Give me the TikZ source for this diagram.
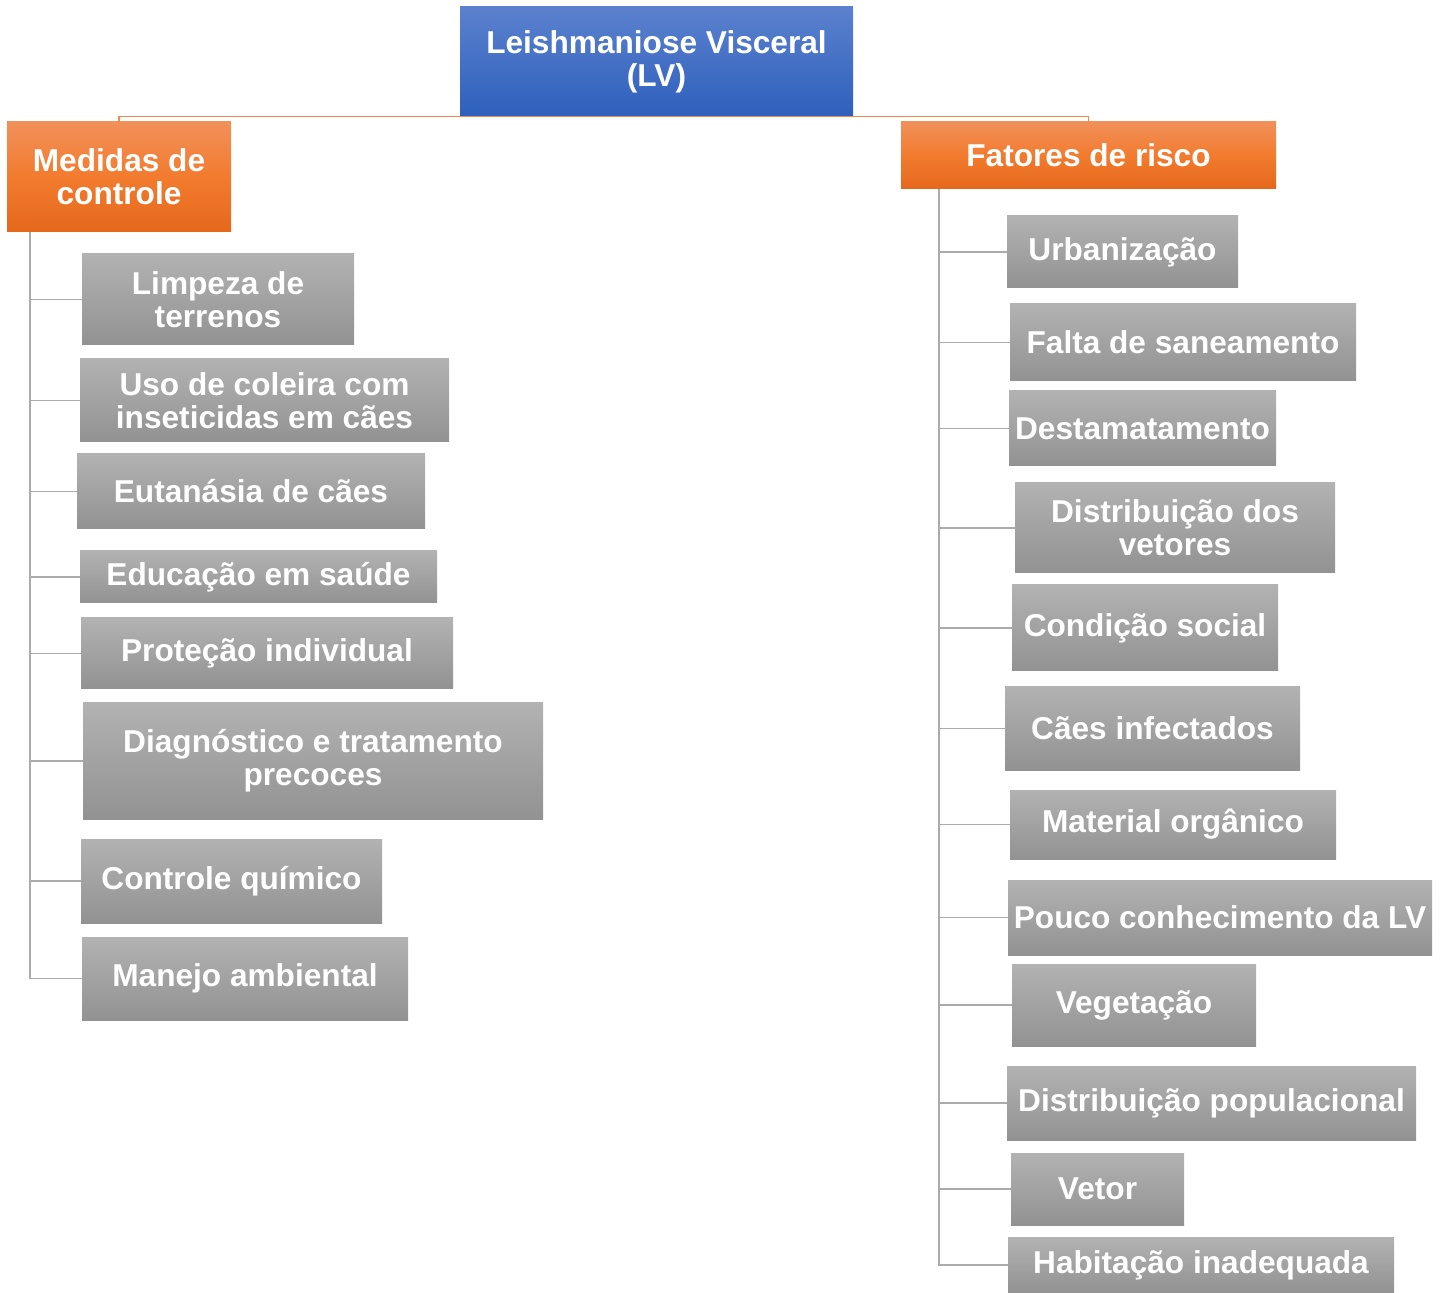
\documentclass[tikz,border=0pt]{standalone}
\usepackage{fontspec}
\setmainfont{Liberation Sans}
\usetikzlibrary{positioning, calc}

\definecolor{lvtop}{HTML}{5B81CE}
\definecolor{lvbot}{HTML}{2E60BC}
\definecolor{ortop}{HTML}{F1905A}
\definecolor{ormid}{HTML}{F27B2E}
\definecolor{orbot}{HTML}{E5681C}
\definecolor{grtop}{HTML}{B2B2B2}
\definecolor{grbot}{HTML}{929292}
\definecolor{grline}{HTML}{ABABAB}
\definecolor{orline}{HTML}{EE8A4A}

\begin{document}
\begin{tikzpicture}[
		x=0.02cm, y=-0.02cm,
		% Estilos dos blocos
		base/.style = {rectangle, inner sep=0pt, align=center, text=white,
			font=\fontsize{18pt}{18.7pt}\selectfont\bfseries},
		sz/.style 2 args = {minimum width=#1*0.02cm, minimum height=#2*0.02cm},
		raiz/.style = {base, top color=lvtop, bottom color=lvbot},
		grupo/.style = {base, top color=ortop, bottom color=orbot, middle color=ormid},
		item/.style = {base, top color=grtop, bottom color=grbot},
		link/.style = {draw=grline, line width=0.9pt},
		olink/.style = {draw=orline, line width=0.9pt}
		]
		\useasboundingbox (0,0) rectangle (1447,1293);
		
		% --- RAIZ ---
		\node [raiz, sz={393}{109}] (lv) at (656.5,61.5) {Leishmaniose Visceral\\(LV)};
		
		% --- GRUPOS ---
		\node [grupo, sz={224}{110}] (medidas) at (119,177) {Medidas de\\controle};
		\node [grupo, sz={375}{67}] (fatores) at (1088.5,155.5) {Fatores de risco};
		
		% --- MEDIDAS DE CONTROLE ---
		\node [item, sz={272}{91}] (m1) at (218,299.5) {Limpeza de\\terrenos};
		\node [item, sz={369}{83}] (m2) at (264.5,400.5) {Uso de coleira com\\inseticidas em cães};
		\node [item, sz={348}{75}] (m3) at (251,491.5) {Eutanásia de cães};
		\node [item, sz={357}{52}] (m4) at (258.5,577) {Educação em saúde};
		\node [item, sz={372}{71}] (m5) at (267,653.5) {Proteção individual};
		\node [item, sz={460}{116}] (m6) at (313,761) {Diagnóstico e tratamento\\precoces};
		\node [item, sz={301}{84}] (m7) at (231.5,881) {Controle químico};
		\node [item, sz={326}{83}] (m8) at (245,978.5) {Manejo ambiental};
		
		% --- FATORES DE RISCO ---
		\node [item, sz={231}{72}] (f1) at (1122.5,252) {Urbanização};
		\node [item, sz={346}{77}] (f2) at (1183,342.5) {Falta de saneamento};
		\node [item, sz={267}{75}] (f3) at (1142.5,428.5) {Destamatamento};
		\node [item, sz={320}{90}] (f4) at (1175,528) {Distribuição dos\\vetores};
		\node [item, sz={266}{86}] (f5) at (1145,628) {Condição social};
		\node [item, sz={295}{83}] (f6) at (1152.5,728.5) {Cães infectados};
		\node [item, sz={326}{69}] (f7) at (1173,824.5) {Material orgânico};
		\node [item, sz={424}{75}] (f8) at (1220,917.5) {Pouco conhecimento da LV};
		\node [item, sz={244}{82}] (f9) at (1134,1005) {Vegetação};
		\node [item, sz={409}{74}] (f10) at (1211.5,1103) {Distribuição populacional};
		\node [item, sz={173}{72}] (f11) at (1097.5,1189) {Vetor};
		\node [item, sz={386}{56}] (f12) at (1201,1265) {Habitação inadequada};
		
		% --- CONEXOES ---
		\draw [olink] (medidas.north) |- (lv.south) -| (fatores.north);
		
		\coordinate (mtop) at (30,232);
		\coordinate (ftop) at (939,189);
		\foreach \n in {m1,m2,m3,m4,m5,m6,m7,m8}
			\draw [link] (mtop) |- (\n.west);
		\foreach \n in {f1,f2,f3,f4,f5,f6,f7,f8,f9,f10,f11,f12}
			\draw [link] (ftop) |- (\n.west);
		
	\end{tikzpicture}
\end{document}
